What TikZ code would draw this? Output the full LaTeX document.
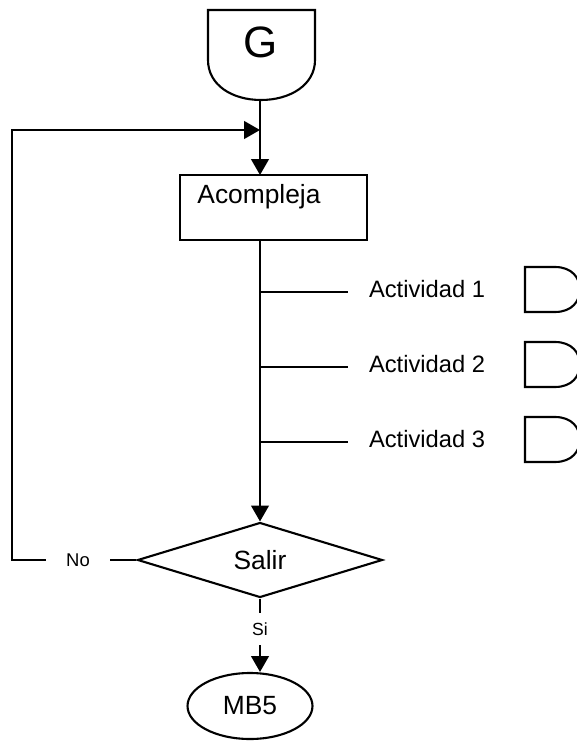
\documentclass[tikz,border=0pt]{standalone}
\usepackage{fontspec}
\setmainfont{Liberation Sans}
\usetikzlibrary{shapes.geometric,arrows.meta}
\begin{document}
\begin{tikzpicture}[x=0.02cm,y=-0.02cm,line width=1.2pt,
  arr/.style={-{Triangle[length=9pt,width=10pt]}},
  procbox/.style={draw,rectangle,minimum width=3.74cm,minimum height=1.3cm,inner sep=0pt},
  decide/.style={draw,diamond,minimum width=4.9cm,minimum height=1.5cm,inner sep=0pt},
  term/.style={draw,ellipse,minimum width=2.5cm,minimum height=1.32cm,inner sep=0pt},
  lbl/.style={inner sep=0pt}]
\useasboundingbox (0,0) rectangle (576,746);

\draw (208,10) -- (315,10) -- (315,60) .. controls (315,85) and (290,100) .. (261,100) .. controls (232,100) and (208,85) .. (208,60) -- cycle;
\node[lbl,font=\fontsize{25}{25}\selectfont] (g) at (261,42) {G};
\coordinate (g-bottom) at (260,100);
\coordinate (loop-join) at (260,130);

\node[procbox] (acompleja) at (273.5,207.5) {};
\node[lbl,font=\fontsize{15}{15}\selectfont] (acompleja-txt) at (259,197) {Acompleja};
\coordinate (acompleja-in) at (260,175);
\coordinate (acompleja-out) at (260,240);
\draw[arr] (g-bottom) -- (acompleja-in);

\node[decide,font=\fontsize{15}{15}\selectfont] (salir) at (260,560) {Salir};
\draw[arr] (acompleja-out) -- (salir.north);

\foreach \i/\y in {1/292,2/367,3/442}{
  \coordinate (act\i-start) at (260,\y);
  \coordinate (act\i-end) at (348,\y);
  \draw (act\i-start) -- (act\i-end);
  \node[lbl,anchor=west,font=\fontsize{13.5}{14}\selectfont] (act\i) at (368,\y-3) {Actividad \i};
  \draw (525,\y-25) -- (555,\y-25) .. controls (572,\y-25) and (580,\y-14) .. (580,\y-2.5) .. controls (580,\y+9) and (572,\y+20) .. (555,\y+20) -- (525,\y+20) -- cycle;
}

\node[lbl,inner xsep=11pt,font=\fontsize{10.5}{11}\selectfont] (no) at (78,560) {No};
\coordinate (loop-corner) at (12,560);
\draw (salir.west) -- (no.east);
\draw[arr] (no.west) -- (loop-corner) |- (loop-join);

\node[lbl,inner ysep=5pt,font=\fontsize{10}{10}\selectfont] (si) at (260,629) {Si};
\node[term,font=\fontsize{15}{15}\selectfont] (mb5) at (250,706) {MB5};
\draw (salir.south) -- (si.north);
\draw[arr] (si.south) -- (si.south |- mb5.north);
\end{tikzpicture}
\end{document}
